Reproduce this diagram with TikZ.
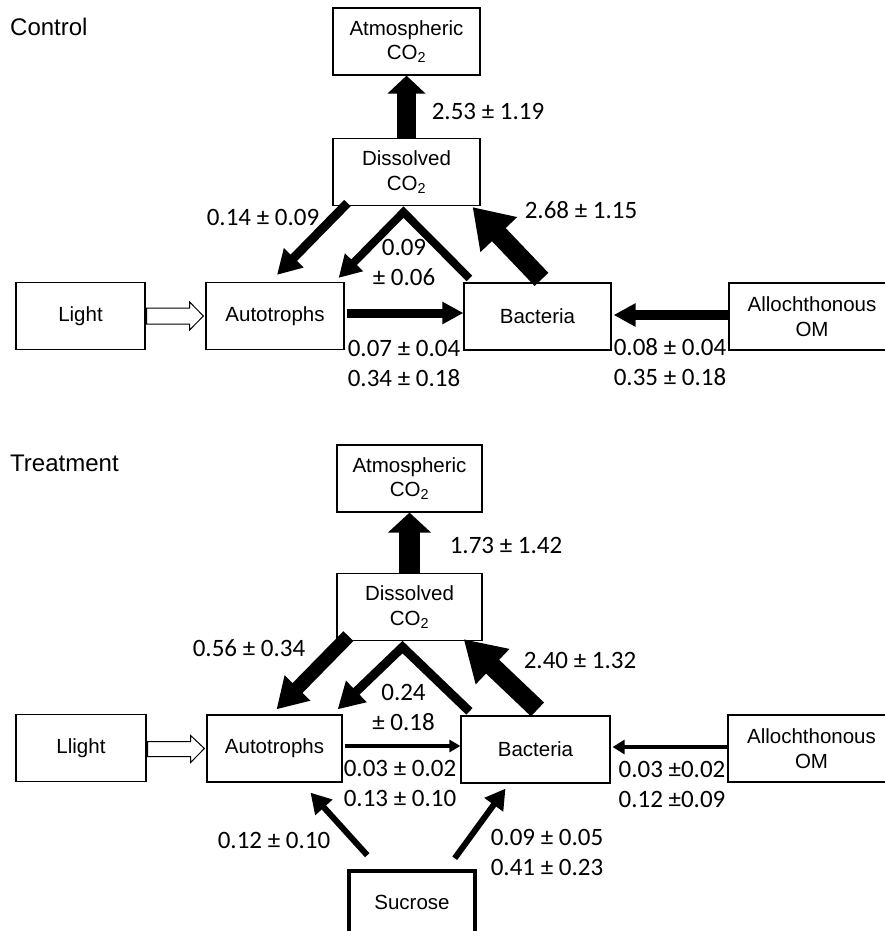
\documentclass[tikz,border=0pt]{standalone}
\usepackage{fontspec}
\setmainfont{Carlito}
\newfontfamily\arialfont{Liberation Sans}
\usetikzlibrary{arrows.meta,calc}

\begin{document}
\begin{tikzpicture}[
    x=1pt, y=-1pt,
    box/.style={draw,line width=1.2pt,inner sep=0pt,minimum height=67pt,
        align=center,font=\arialfont\fontsize{20.5}{24.5}\selectfont},
    srcbox/.style={box,line width=3.5pt},
    lab/.style={font=\fontsize{25}{30}\selectfont,inner sep=0pt,align=center},
    title/.style={font=\arialfont\fontsize{24}{28}\selectfont,anchor=west,inner sep=0pt},
    flux/.style args={#1/#2/#3}{line width=#1pt,line join=miter,
        -{Triangle[width=#2pt,length=#3pt]}},
    lightarrow/.style={line width=1pt,line join=miter,fill=white},
]
\useasboundingbox (0,0) rectangle (885,931);

% Control
\node[title] (ctl) at (10,27) {Control};
\node[box,minimum width=147pt] (atm1) at (406.5,41.5) {Atmospheric\\CO\textsubscript{2}};
\node[box,minimum width=147pt] (dis1) at (406.5,172) {Dissolved\\CO\textsubscript{2}};
\node[box,minimum width=129pt] (lig1) at (80.5,316) {Light};
\node[box,minimum width=138pt] (aut1) at (275,316) {Autotrophs};
\node[box,minimum width=147pt] (bac1) at (537.5,316.5) {Bacteria};
\node[box,minimum width=166pt] (all1) at (812,316.5) {Allochthonous\\OM};

\draw[flux={19/37/18}] (dis1.north) -- (atm1.south);
\draw[flux={9/26/24}] ($(dis1.south west)+(15,-3)$) -- ($(aut1.north)+(2,-7)$);
\draw[flux={8/24/22}] ($(bac1.north west)+(6,-4)$) -- ($(dis1.south)+(-3,6)$)
    -- ($(aut1.north east)+(-6,-4)$);
\draw[flux={19/48/38}] ($(bac1.north)+(4,-3)$) -- ($(dis1.south east)+(-8,1)$);
\draw[flux={9/21/21}] ($(aut1.east)+(2,-3)$) -- ($(bac1.west)+(0,-3.5)$);
\draw[flux={10/22/22}] ($(all1.west)+(0,-1.5)$) -- ($(bac1.east)+(2,-1.5)$);
\draw[lightarrow] ($(lig1.east)+(1,-8)$) -- ++(43,0) -- ++(0,-6)
    -- ($(aut1.west)+(-2,0)$) -- ($(lig1.east)+(44,14)$) -- ++(0,-6) -- ++(-43,0) -- cycle;

\node[lab] (f1) at (488,111) {2.53 ± 1.19};
\node[lab] (f2) at (581,210) {2.68 ± 1.15};
\node[lab] (f3) at (263,217) {0.14 ± 0.09};
\node[lab] (f4) at (404,262.5) {0.09\\± 0.06};
\node[lab] (f5) at (404,363) {0.07 ± 0.04\\0.34 ± 0.18};
\node[lab] (f6) at (670,362) {0.08 ± 0.04\\0.35 ± 0.18};

% Treatment
\node[title] (trt) at (10,463) {Treatment};
\node[box,minimum width=145pt] (atm2) at (409.5,478.5) {Atmospheric\\CO\textsubscript{2}};
\node[box,minimum width=145pt] (dis2) at (409.5,607) {Dissolved\\CO\textsubscript{2}};
\node[box,minimum width=130pt] (lig2) at (81,748) {Llight};
\node[box,minimum width=135pt] (aut2) at (274.5,748.5) {Autotrophs};
\node[box,minimum width=149pt] (bac2) at (535.5,749.5) {Bacteria};
\node[box,minimum width=167pt] (all2) at (811.5,748.5) {Allochthonous\\OM};
\node[srcbox,minimum width=126pt,minimum height=62pt] (suc) at (412,902) {Sucrose};

\draw[flux={21/42/20}] (dis2.north) -- (atm2.south);
\draw[flux={14/34/30}] ($(dis2.south west)+(12,-5)$) -- ($(aut2.north)+(2,-5)$);
\draw[flux={9/28/26}] ($(bac2.north west)+(9,-4)$) -- ($(dis2.south)+(-7,6)$)
    -- ($(aut2.north east)+(-5,-5)$);
\draw[flux={19/46/40}] ($(bac2.north)+(2,-6)$) -- ($(dis2.south east)+(-19,-2)$);
\draw[flux={3.5/12/11}] ($(aut2.east)+(2,-2.5)$) -- ($(bac2.west)+(0,-3.5)$);
\draw[flux={4/14/12}] ($(all2.west)+(0,-1.5)$) -- ($(bac2.east)+(2,-2.5)$);
\draw[flux={6/22/20}] ($(suc.north west)+(20,-14)$) -- ($(aut2.south)+(36,10)$);
\draw[flux={6/22/20}] ($(suc.north east)+(-22,-11)$) -- ($(bac2.south)+(-30,5)$);
\draw[lightarrow] ($(lig2.east)+(1,-6.5)$) -- ++(43,0) -- ++(0,-6)
    -- ($(aut2.west)+(-2,0)$) -- ($(lig2.east)+(44,14.5)$) -- ++(0,-6) -- ++(-43,0) -- cycle;

\node[lab] (g1) at (506,545) {1.73 ± 1.42};
\node[lab] (g2) at (249,648) {0.56 ± 0.34};
\node[lab] (g3) at (580,660) {2.40 ± 1.32};
\node[lab] (g4) at (403.5,707) {0.24\\± 0.18};
\node[lab] (g5) at (400,783) {0.03 ± 0.02\\0.13 ± 0.10};
\node[lab] (g6) at (672,784) {0.03 ±0.02\\0.12 ±0.09};
\node[lab] (g7) at (274,840) {0.12 ± 0.10};
\node[lab] (g8) at (547,852) {0.09 ± 0.05\\0.41 ± 0.23};
\end{tikzpicture}
\end{document}
